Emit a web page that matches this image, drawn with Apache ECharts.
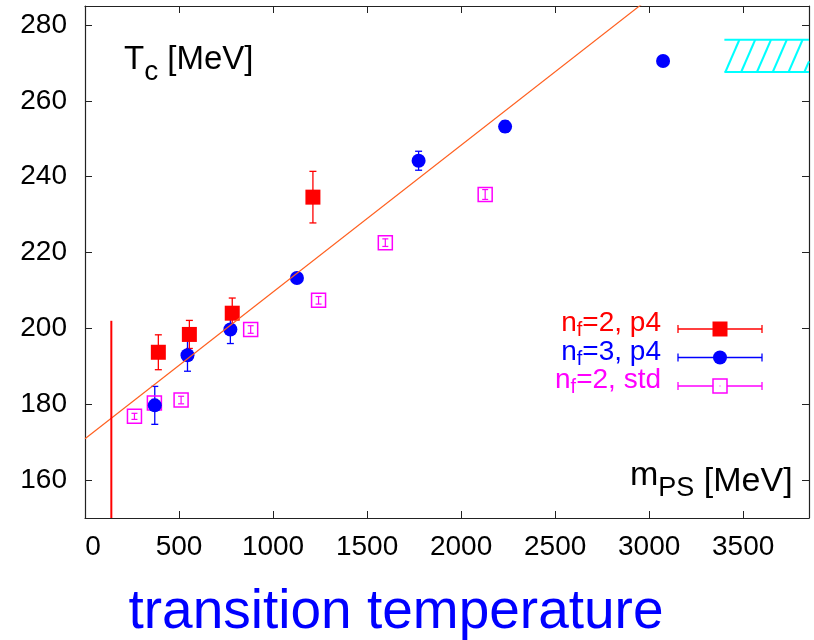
<!DOCTYPE html>
<html>
<head>
<meta charset="utf-8">
<script src="https://cdn.jsdelivr.net/npm/echarts@6/dist/echarts.min.js"></script>
<style>
  html, body { margin: 0; padding: 0; background: #fff; }
  #chart { width: 814px; height: 640px; }
</style>
</head>
<body>
<div id="chart"></div>
<script>
// points: [m_PS, T_c, error], MeV
const nf2p4 = [[390, 193.7, 4.6], [555, 198.4, 3.7], [783, 204.0, 4.0], [1212, 234.6, 6.8]]
const nf3p4 = [[371, 179.7, 5.0], [545, 192.9, 4.2], [773, 199.7, 3.7], [1127, 213.3, 0.5],
  [1774, 244.2, 2.5], [2234, 253.2, 1.5], [3074, 270.5, 0]]
const nf2std = [[263, 176.8, 0.8], [369, 180.3, 1.0], [511, 181.1, 1.0], [881, 199.7, 1.0],
  [1242, 207.4, 1.0], [1597, 222.6, 1.0], [2128, 235.3, 1.3]]
// linear fit through the points
const fitLine = [[0, 170.9], [3850, 319.9]]
// physical pion mass marker
const pionLine = [[140, 150], [140, 202]]
// hatched band (quenched value)
const bandX = [3400, 3850]
const bandY = [267.6, 276.1]

const xTicks = [0, 500, 1000, 1500, 2000, 2500, 3000, 3500]
const yTicks = [160, 180, 200, 220, 240, 260, 280]

const FONT = "'Liberation Sans', Arial, sans-serif"
const AXIS_COLOR = '#222'

let chart = echarts.init(document.getElementById('chart'))

/**
 * error bars as a custom series
 */
function errorBars (data, color, cap, width) {
  return {
    type: 'custom',
    silent: true,
    data: data.filter(d => d[2] > 0).map(d => [d[0], d[1] - d[2], d[1] + d[2]]),
    renderItem: function (params, api) {
      let lo = api.coord([api.value(0), api.value(1)])
      let hi = api.coord([api.value(0), api.value(2)])
      let style = { stroke: color, lineWidth: width }
      return {
        type: 'group',
        children: [
          { type: 'line', shape: { x1: lo[0], y1: lo[1], x2: hi[0], y2: hi[1] }, style: style },
          { type: 'line', shape: { x1: lo[0] - cap, y1: lo[1], x2: lo[0] + cap, y2: lo[1] }, style: style },
          { type: 'line', shape: { x1: hi[0] - cap, y1: hi[1], x2: hi[0] + cap, y2: hi[1] }, style: style }
        ]
      }
    }
  }
}

/**
 * cyan hatched band
 */
function hatchBand () {
  return {
    type: 'custom',
    silent: true,
    data: [[bandX[0], bandY[0], bandX[1], bandY[1]]],
    renderItem: function (params, api) {
      let p0 = api.coord([api.value(0), api.value(1)])
      let p1 = api.coord([api.value(2), api.value(3)])
      let style = { stroke: '#00ffff', lineWidth: 2 }
      let kids = [
        { type: 'line', shape: { x1: p0[0], y1: p0[1], x2: p1[0], y2: p0[1] }, style: style },
        { type: 'line', shape: { x1: p0[0], y1: p1[1], x2: p1[0], y2: p1[1] }, style: style }
      ]
      let h = p0[1] - p1[1]
      let dx = 14
      for (let x = p0[0] + 1; x < p1[0]; x += 15.8) {
        let x2 = x + dx
        let y2 = p1[1]
        if (x2 > p1[0]) {
          y2 = p0[1] - h * (p1[0] - x) / dx
          x2 = p1[0]
        }
        kids.push({ type: 'line', shape: { x1: x, y1: p0[1], x2: x2, y2: y2 }, style: style })
      }
      return { type: 'group', children: kids }
    }
  }
}

function xAxis (pos) {
  return {
    type: 'value',
    min: 0,
    max: 3850,
    position: pos,
    axisLine: { show: true, onZero: false, lineStyle: { color: AXIS_COLOR, width: 1.2 } },
    axisTick: { show: true, inside: true, length: 7, customValues: xTicks, lineStyle: { color: AXIS_COLOR } },
    axisLabel: {
      show: pos === 'bottom',
      customValues: xTicks,
      margin: 15,
      fontSize: 28,
      fontFamily: FONT,
      color: '#000',
      // gnuplot puts the "0" a bit to the right of the corner
      formatter: v => (v === 0 ? '{z|0}' : String(v)),
      rich: { z: { fontSize: 28, fontFamily: FONT, color: '#000', padding: [0, 0, 0, 16] } }
    },
    splitLine: { show: false }
  }
}

function yAxis (pos) {
  return {
    type: 'value',
    min: 150,
    max: 285,
    position: pos,
    axisLine: { show: true, onZero: false, lineStyle: { color: AXIS_COLOR, width: 1.2 } },
    axisTick: { show: true, inside: true, length: 7, customValues: yTicks, lineStyle: { color: AXIS_COLOR } },
    axisLabel: {
      show: pos === 'left',
      customValues: yTicks,
      margin: 18,
      fontSize: 28,
      fontFamily: FONT,
      color: '#000',
      formatter: v => String(v)
    },
    splitLine: { show: false }
  }
}

const legendRows = [
  { text: '{m|n}{s|f}{m|=2, p4}', color: '#ff0000', mark: 'square' },
  { text: '{m|n}{s|f}{m|=3, p4}', color: '#0000ff', mark: 'circle' },
  { text: '{m|n}{s|f}{m|=2, std}', color: '#ff00ff', mark: 'open' }
]

function legendGraphic () {
  let out = []
  legendRows.forEach(function (row, i) {
    let y = 329 + i * 28.5
    out.push({
      type: 'text',
      x: 661,
      y: y - 5.5,
      style: {
        text: row.text,
        align: 'right',
        verticalAlign: 'middle',
        fill: row.color,
        rich: {
          m: { fontSize: 28, fontFamily: FONT, fill: row.color },
          s: { fontSize: 20, fontFamily: FONT, fill: row.color, padding: [14, 0, 0, 0] }
        }
      }
    })
    let ls = { stroke: row.color, lineWidth: 1.3 }
    out.push({ type: 'line', shape: { x1: 678, y1: y, x2: 762, y2: y }, style: ls })
    out.push({ type: 'line', shape: { x1: 678, y1: y - 4, x2: 678, y2: y + 4 }, style: ls })
    out.push({ type: 'line', shape: { x1: 762, y1: y - 4, x2: 762, y2: y + 4 }, style: ls })
    if (row.mark === 'square') {
      out.push({ type: 'rect', shape: { x: 712.5, y: y - 7.5, width: 15, height: 15 }, style: { fill: row.color } })
    } else if (row.mark === 'circle') {
      out.push({ type: 'circle', shape: { cx: 720, cy: y, r: 7 }, style: { fill: row.color } })
    } else {
      out.push({ type: 'rect', shape: { x: 713, y: y - 7, width: 14, height: 14 }, style: { fill: '#fff', stroke: row.color, lineWidth: 1.5 } })
      out.push({ type: 'rect', shape: { x: 719.5, y: y - 0.5, width: 1, height: 1 }, style: { fill: row.color } })
    }
  })
  return out
}

let option = {
  animation: false,
  backgroundColor: '#fff',
  grid: { left: 85, right: 5, top: 6, bottom: 122 },
  xAxis: [xAxis('bottom'), xAxis('top')],
  yAxis: [yAxis('left'), yAxis('right')],
  graphic: [
    {
      type: 'text',
      x: 124,
      y: 59.6,
      style: {
        text: '{m|T}{s|c}{m| [MeV]}',
        align: 'left',
        verticalAlign: 'middle',
        rich: {
          m: { fontSize: 33, fontFamily: FONT, fill: '#000' },
          s: { fontSize: 28, fontFamily: FONT, fill: '#000', padding: [25, 0, 0, 0] }
        }
      }
    },
    {
      type: 'text',
      x: 630,
      y: 475.9,
      style: {
        text: '{m|m}{s|PS}{b| [MeV]}',
        align: 'left',
        verticalAlign: 'middle',
        rich: {
          m: { fontSize: 34, fontFamily: FONT, fill: '#000' },
          s: { fontSize: 27, fontFamily: FONT, fill: '#000', padding: [25, 0, 0, 0] },
          b: { fontSize: 34, fontFamily: FONT, fill: '#000', padding: [11, 0, 0, 0] }
        }
      }
    },
    {
      type: 'text',
      x: 396,
      y: 612.6,
      style: {
        text: 'transition temperature',
        align: 'center',
        verticalAlign: 'middle',
        fontSize: 55,
        fontFamily: FONT,
        fill: '#0000ff'
      }
    }
  ].concat(legendGraphic()),
  series: [
    {
      type: 'line',
      data: fitLine,
      symbol: 'none',
      silent: true,
      lineStyle: { color: '#ff6020', width: 1.2 }
    },
    {
      type: 'line',
      data: pionLine,
      symbol: 'none',
      silent: true,
      lineStyle: { color: '#ff0000', width: 2 }
    },
    hatchBand(),
    errorBars(nf2p4, '#ff0000', 3.5, 1.3),
    {
      type: 'scatter',
      data: nf2p4.map(d => [d[0], d[1]]),
      symbol: 'rect',
      symbolSize: 15,
      silent: true,
      itemStyle: { color: '#ff0000', opacity: 1 }
    },
    {
      type: 'scatter',
      data: nf2std.map(d => [d[0], d[1]]),
      symbol: 'rect',
      symbolSize: 14,
      silent: true,
      itemStyle: { color: 'rgba(255,255,255,0)', borderColor: '#ff00ff', borderWidth: 1.5, opacity: 1 }
    },
    errorBars(nf2std, '#ff00ff', 3, 1.2),
    errorBars(nf3p4, '#0000ff', 3.5, 1.3),
    {
      type: 'scatter',
      data: nf3p4.map(d => [d[0], d[1]]),
      symbol: 'circle',
      symbolSize: 14,
      silent: true,
      itemStyle: { color: '#0000ff', opacity: 1 }
    }
  ]
}

chart.setOption(option)
</script>
</body>
</html>
